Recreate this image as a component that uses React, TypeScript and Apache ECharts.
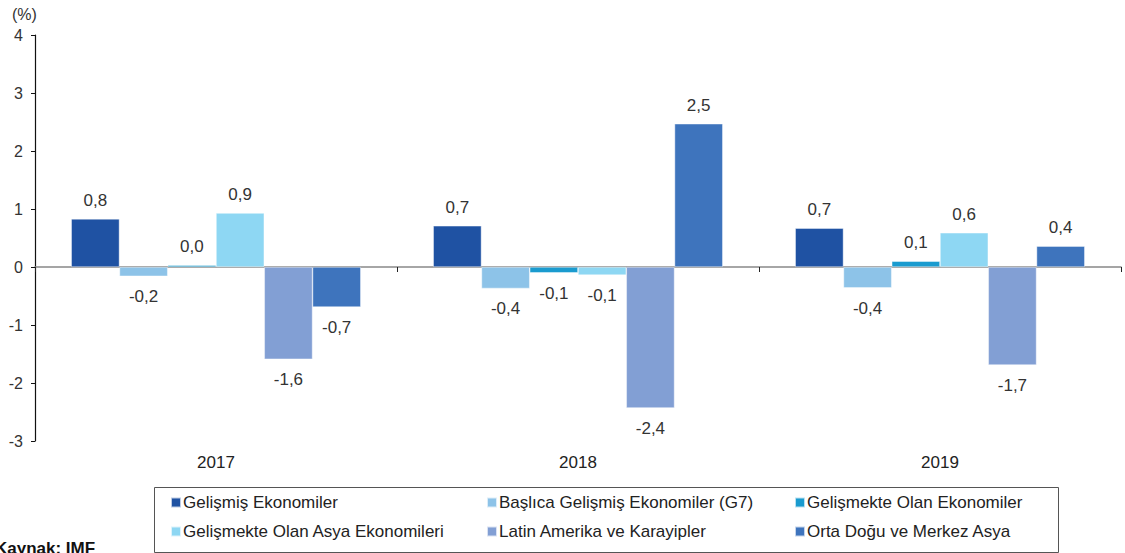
import React, { useEffect, useRef } from "react";
import * as echarts from "echarts";

const years = ["2017", "2018", "2019"];
const seriesNames = [
  "Gelişmiş Ekonomiler",
  "Başlıca Gelişmiş Ekonomiler (G7)",
  "Gelişmekte Olan Ekonomiler",
  "Gelişmekte Olan Asya Ekonomileri",
  "Latin Amerika ve Karayipler",
  "Orta Doğu ve Merkez Asya",
];
const gelismis = [0.83, 0.71, 0.67];
const g7 = [-0.16, -0.37, -0.36];
const gelismekte = [0.03, -0.1, 0.1];
const asya = [0.93, -0.14, 0.59];
const latin = [-1.59, -2.43, -1.69];
const ortaDogu = [-0.69, 2.47, 0.36];
const colors = ["#1F52A3", "#8DC3E8", "#1A9BCF", "#8ED7F3", "#829FD4", "#3E74BD"];
const yTicks = { min: -3, max: 4, interval: 1 };

const FONT = "Liberation Sans, Arial, sans-serif";

export default function App() {
  const ref = useRef<HTMLDivElement>(null);
  useEffect(() => {
    document.body.style.margin = "0";
    const chart = echarts.init(ref.current!, null, { renderer: "svg" });
    const allValues = [gelismis, g7, gelismekte, asya, latin, ortaDogu];
    const series = allValues.map((vals, i) => ({
      name: seriesNames[i],
      type: "bar",
      xAxisIndex: 0,
      barGap: "0%",
      barCategoryGap: "20%",
      itemStyle: { color: colors[i], borderColor: "rgba(255,255,255,0.7)", borderWidth: 0.6 },
      label: {
        show: true,
        fontSize: 17,
        fontFamily: FONT,
        color: "#333",
        formatter: (p: any) => p.value.toFixed(1).replace(".", ","),
      },
      data: vals.map((v) => ({
        value: v,
        label: { position: v >= 0 ? "top" : "bottom", distance: v >= 0 ? 10 : 12 },
      })),
    }));
    const legendCommon = {
      orient: "vertical",
      top: 494,
      itemWidth: 10,
      itemHeight: 10,
      itemGap: 12,
      icon: "rect",
      selectedMode: false,
      textStyle: { fontSize: 17, fontFamily: FONT, color: "#222", padding: [0, 0, 0, -3] },
      padding: 0,
    };
    chart.setOption({
      animation: false,
      textStyle: { fontFamily: FONT },
      grid: { left: 35, top: 35, width: 1086, height: 406, containLabel: false },
      xAxis: [
        {
          type: "category",
          data: years,
          axisLine: { onZero: true, lineStyle: { color: "#888", width: 1.5 } },
          axisTick: { show: true, length: 5, lineStyle: { color: "#222" } },
          axisLabel: { show: false },
        },
        {
          type: "category",
          data: years,
          position: "bottom",
          axisLine: { show: false },
          axisTick: { show: false },
          axisLabel: { show: true, fontSize: 17, color: "#222", margin: 13, fontFamily: FONT },
        },
      ],
      yAxis: {
        type: "value",
        min: yTicks.min,
        max: yTicks.max,
        interval: yTicks.interval,
        axisLine: { show: true, lineStyle: { color: "#111", width: 1.2 } },
        axisTick: { show: true, length: 4, lineStyle: { color: "#111" } },
        splitLine: { show: false },
        axisLabel: { fontSize: 16, color: "#333", margin: 12, fontFamily: FONT },
      },
      legend: [
        { ...legendCommon, left: 170, data: [seriesNames[0], seriesNames[3]] },
        { ...legendCommon, left: 486, data: [seriesNames[1], seriesNames[4]] },
        { ...legendCommon, left: 794, data: [seriesNames[2], seriesNames[5]] },
      ],
      graphic: [
        {
          type: "rect",
          left: 152,
          top: 485,
          shape: { width: 904, height: 65 },
          style: { fill: "none", stroke: "#555", lineWidth: 1 },
        },
        {
          type: "text",
          left: 12,
          top: 6,
          style: { text: "(%)", fontSize: 16, fill: "#333", fontFamily: FONT },
        },
        {
          type: "text",
          left: -5,
          top: 540,
          style: { text: "Kaynak: IMF", fontSize: 17, fontWeight: "bold", fill: "#111", fontFamily: FONT },
        },
      ],
      series,
    });
    return () => chart.dispose();
  }, []);
  return <div ref={ref} style={{ width: 1125, height: 553 }} />;
}
